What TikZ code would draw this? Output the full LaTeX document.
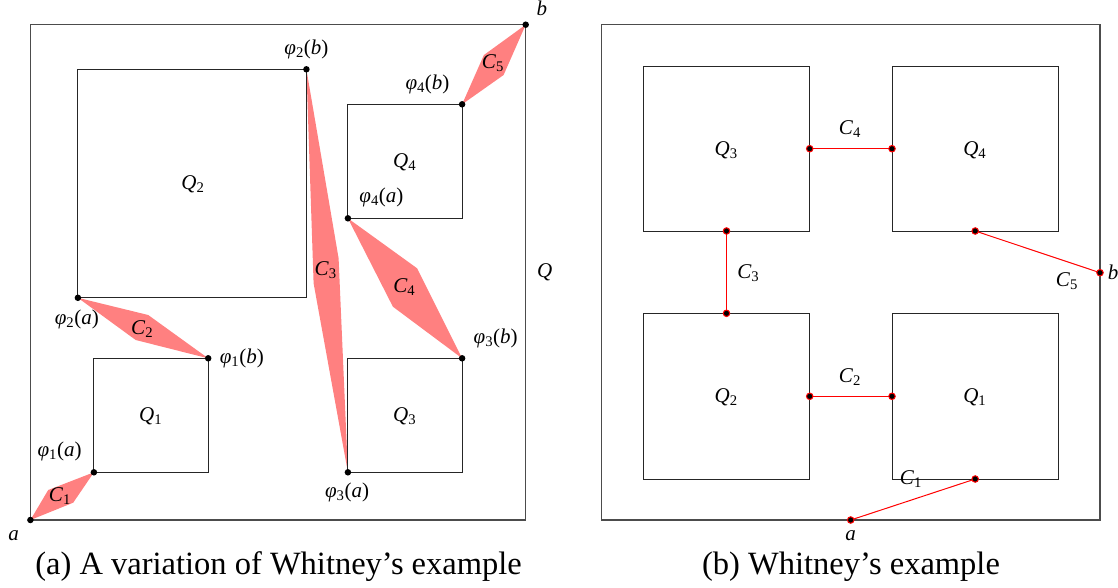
\documentclass[tikz,border=0pt]{standalone}
\usepackage{fontspec}
\setmainfont{Liberation Serif}
\newcommand\qlab[1]{\textit{Q}\textsubscript{#1}}
\newcommand\clab[1]{\textit{C}\textsubscript{#1}}
\newcommand\phlab[2]{\textit{φ}\textsubscript{#1}(\textit{#2})}
\begin{document}
\begin{tikzpicture}[x=1pt,y=-1pt,
  outer/.style={draw=black!70, line width=1.1pt},
  box/.style={draw=black!85, line width=0.9pt},
  lbl/.style={font=\fontsize{21}{25}\selectfont, inner sep=0pt},
  captext/.style={font=\fontsize{32.5}{38}\selectfont, inner sep=0pt},
  blob/.style={fill=red!50},
  dotb/.style={circle, fill=black, inner sep=0pt, minimum size=6.5pt},
  dotr/.style={circle, fill=black, draw=red, line width=1pt, inner sep=0pt, minimum size=6.5pt},
  seg/.style={draw=red, line width=1pt}]
\useasboundingbox (0,0) rectangle (1118,587);

% ---------- left panel ----------
\coordinate (a) at (30.4,520);
\coordinate (b) at (525.7,24.7);
\coordinate (p1a) at (93.9,472.3);
\coordinate (p1b) at (208.2,358.3);
\coordinate (p2a) at (77.9,297.8);
\coordinate (p2b) at (306.4,69.3);
\coordinate (p3a) at (347.9,472.3);
\coordinate (p3b) at (462.1,358.3);
\coordinate (p4a) at (347.9,218.3);
\coordinate (p4b) at (462.1,104.3);

\fill[blob] (a) -- (48.2,490) -- (p1a) -- (73.2,502.7) -- cycle;
\fill[blob] (p2a) -- (148.2,315) -- (p1b) -- (135.7,340) -- cycle;
\fill[blob] (p2b) -- (338.6,258.3) -- (p3a) -- (313.6,283.3) -- cycle;
\fill[blob] (p4a) -- (417.1,268.3) -- (p3b) -- (392.9,306.7) -- cycle;
\fill[blob] (p4b) -- (483.9,55) -- (b) -- (503.6,75) -- cycle;

\draw[outer] (a) rectangle (b);
\draw[box] (p2a) rectangle (p2b);
\draw[box] (p4a) rectangle (p4b);
\draw[box] (p1a) rectangle (p1b);
\draw[box] (p3a) rectangle (p3b);

\foreach \p in {a,b,p1a,p1b,p2a,p2b,p3a,p3b,p4a,p4b}
  \node[dotb] (dot-\p) at (\p) {};

\node[lbl] (lQ2) at (193,184) {\qlab{2}};
\node[lbl] (lQ4) at (404.6,162) {\qlab{4}};
\node[lbl] (lQ1) at (150.7,416) {\qlab{1}};
\node[lbl] (lQ3) at (404.6,416) {\qlab{3}};
\node[lbl] (lQ) at (544.6,272.7) {\textit{Q}};
\node[lbl] (lb) at (541.8,8) {\textit{b}};
\node[lbl] (la) at (13.6,536) {\textit{a}};

\node[lbl] (lC1) at (60,496) {\clab{1}};
\node[lbl] (lC2) at (142.1,329.3) {\clab{2}};
\node[lbl] (lC3) at (325.7,270) {\clab{3}};
\node[lbl] (lC4) at (404.3,287.3) {\clab{4}};
\node[lbl] (lC5) at (492.9,63.3) {\clab{5}};

\node[lbl] (lp2b) at (306.4,49) {\phlab{2}{b}};
\node[lbl] (lp4b) at (427.5,84) {\phlab{4}{b}};
\node[lbl] (lp4a) at (381.4,197.3) {\phlab{4}{a}};
\node[lbl] (lp2a) at (76.8,319.3) {\phlab{2}{a}};
\node[lbl] (lp1b) at (241.8,358.3) {\phlab{1}{b}};
\node[lbl] (lp1a) at (59.6,451.7) {\phlab{1}{a}};
\node[lbl] (lp3b) at (495.7,338.3) {\phlab{3}{b}};
\node[lbl] (lp3a) at (347.1,492.7) {\phlab{3}{a}};

\node[captext] (capa) at (278.6,566.7) {(a) A variation of Whitney’s example};

% ---------- right panel ----------
\draw[outer] (601.7,24.7) rectangle (1100,520);
\draw[box] (643.4,66) rectangle (809.7,231);
\draw[box] (892,66) rectangle (1058.3,231);
\draw[box] (643.4,313.3) rectangle (809.7,479);
\draw[box] (892,313.3) rectangle (1058.3,479);

\node[lbl] (rQ3) at (726.2,150) {\qlab{3}};
\node[lbl] (rQ4) at (974.8,150) {\qlab{4}};
\node[lbl] (rQ2) at (726.2,397.3) {\qlab{2}};
\node[lbl] (rQ1) at (974.8,397.3) {\qlab{1}};

\coordinate (r4s) at (809.7,148.7);
\coordinate (r4t) at (892,148.7);
\coordinate (r3s) at (726.5,231);
\coordinate (r3t) at (726.5,313.3);
\coordinate (r5s) at (975.2,231);
\coordinate (rb) at (1100,272.7);
\coordinate (r2s) at (809.7,396.3);
\coordinate (r2t) at (892,396.3);
\coordinate (ra) at (850.7,520);
\coordinate (r1t) at (975.2,479);

\draw[seg] (r4s) -- (r4t);
\draw[seg] (r3s) -- (r3t);
\draw[seg] (r5s) -- (rb);
\draw[seg] (r2s) -- (r2t);
\draw[seg] (ra) -- (r1t);

\foreach \p in {r4s,r4t,r3s,r3t,r5s,rb,r2s,r2t,ra,r1t}
  \node[dotr] (dot-\p) at (\p) {};

\node[lbl] (rC4) at (850,129) {\clab{4}};
\node[lbl] (rC3) at (748.3,272.7) {\clab{3}};
\node[lbl] (rC5) at (1067,280.7) {\clab{5}};
\node[lbl] (rC2) at (850,376.7) {\clab{2}};
\node[lbl] (rC1) at (911,479.3) {\clab{1}};
\node[lbl] (rlb) at (1113,272.7) {\textit{b}};
\node[lbl] (rla) at (850.7,535.7) {\textit{a}};

\node[captext] (capb) at (851,566.7) {(b) Whitney’s example};
\end{tikzpicture}
\end{document}
